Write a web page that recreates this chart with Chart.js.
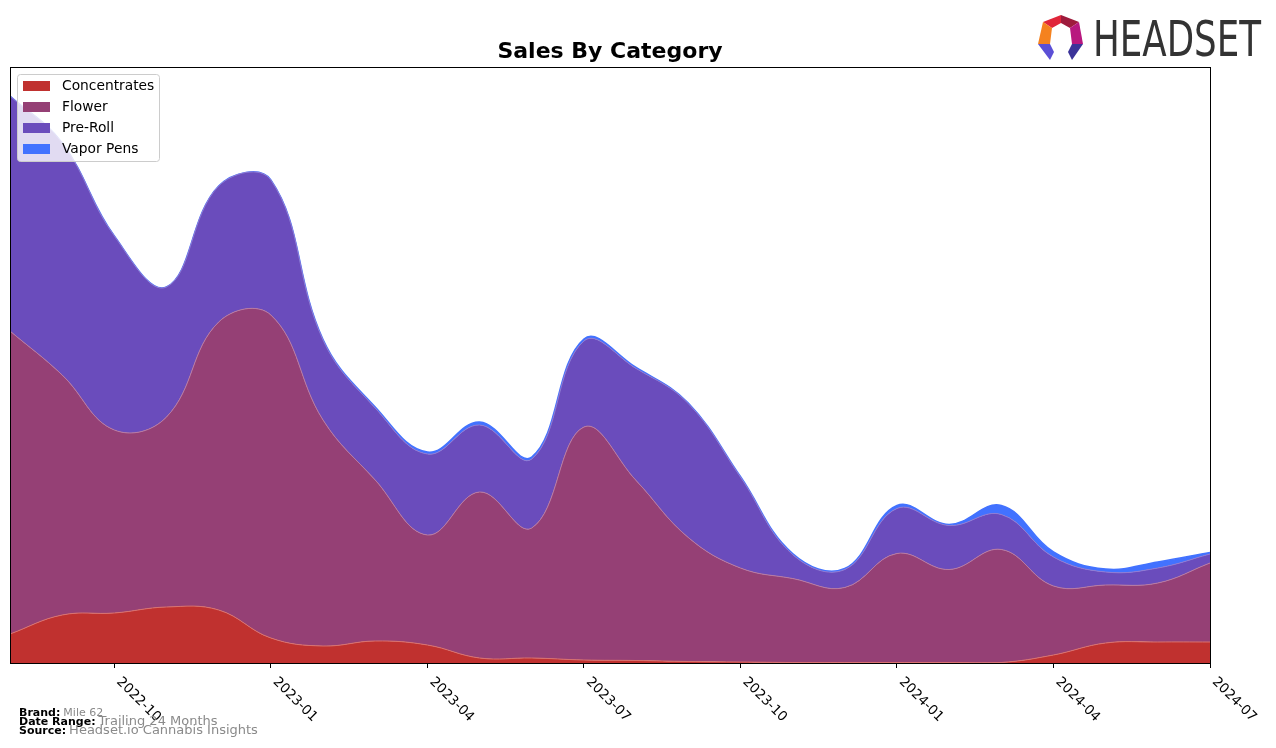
<!DOCTYPE html>
<html>
<head>
<meta charset="utf-8">
<title>Sales By Category</title>
<script src="https://cdn.jsdelivr.net/npm/chart.js@4.4.1/dist/chart.umd.min.js"></script>
<style>
    html, body { margin: 0; padding: 0; background: #fff; }
    #salesChart { display: block; }
</style>
</head>
<body>
<canvas id="salesChart" width="1276" height="748"></canvas>
<script>
// monthly points, Aug 2022 .. Jul 2024
var months = ['2022-08','2022-09','2022-10','2022-11','2022-12','2023-01','2023-02','2023-03',
              '2023-04','2023-05','2023-06','2023-07','2023-08','2023-09','2023-10','2023-11',
              '2023-12','2024-01','2024-02','2024-03','2024-04','2024-05','2024-06','2024-07'];

// values (no y axis in the original, so units are arbitrary)
var concentrates = [29,48,50,56,53,25,17,22,18,5,5,3,2.5,1.5,1,0.5,0.5,0.5,0.5,0.5,8,20,21,21];
var flower       = [303,240,183,190,288,323,226,161,110,166,130,233,180,124,94,84,75,109,93,113,69,58,59,79];
var preRoll      = [235,232,194,130,136,135,80,72,81,67,69,86,112,134,91,24,18,45,44,35,29,13,15,9];
var vaporPens    = [0,0,0,0,0,0,0.5,1,2,3,2,2,1,0.5,0.5,1,1,3,1,9,5,3,6,1.5];

var categories = ['Concentrates','Flower','Pre-Roll','Vapor Pens'];
var colors     = ['#C0312F','#954075','#6A4CBC','#4272FF'];
var edgeColors = ['#D9716F','#B87AA2','#8F7BD3','#4272FF'];

// x ticks only every quarter
var tickMonths = months.filter(function (m) {
    var mm = m.slice(5);
    return mm == '01' || mm == '04' || mm == '07' || mm == '10';
});

function toPoints(arr) {
    return arr.map(function (v, i) { return {x: i, y: v}; });
}

var series = [concentrates, flower, preRoll, vaporPens];
var datasets = [];
for (var i = 0; i < series.length; i++) {
    datasets.push({
        label: categories[i],
        data: toPoints(series[i]),
        backgroundColor: colors[i],
        borderColor: edgeColors[i],
        borderWidth: i == 3 ? 1.5 : 1,
        pointRadius: 0,
        tension: 0.4,
        fill: i == 0 ? 'origin' : '-1'
    });
}

var FONT = '"DejaVu Sans", sans-serif';

// title, legend box, rotated tick labels, frame, footer and logo
var decorations = {
    id: 'decorations',
    afterDraw: function (chart) {
        var ctx = chart.ctx;
        var area = chart.chartArea;
        var xs = chart.scales.x;

        ctx.save();

        // frame around the plot
        ctx.strokeStyle = '#000';
        ctx.lineWidth = 1;
        ctx.strokeRect(Math.round(area.left) + 0.5, Math.round(area.top) + 0.5,
                       Math.round(area.right - area.left), Math.round(area.bottom - area.top));

        // title
        ctx.fillStyle = '#000';
        ctx.font = 'bold 22px ' + FONT;
        ctx.textAlign = 'center';
        ctx.textBaseline = 'middle';
        ctx.fillText('Sales By Category', (area.left + area.right) / 2, 52);

        // x tick labels, rotated 45deg clockwise
        ctx.font = '13.5px ' + FONT;
        ctx.textAlign = 'left';
        ctx.textBaseline = 'top';
        tickMonths.forEach(function (m) {
            var px = xs.getPixelForValue(months.indexOf(m));
            ctx.save();
            ctx.translate(px + 9, area.bottom + 12);
            ctx.rotate(Math.PI / 4);
            ctx.fillText(m, 0, 0);
            ctx.restore();
        });

        // legend
        ctx.beginPath();
        ctx.roundRect(17.5, 74.5, 142, 87, 3);
        ctx.fillStyle = 'rgba(255,255,255,0.8)';
        ctx.fill();
        ctx.strokeStyle = '#CCCCCC';
        ctx.stroke();
        ctx.font = '13.8px ' + FONT;
        ctx.textBaseline = 'middle';
        for (var k = 0; k < categories.length; k++) {
            ctx.fillStyle = colors[k];
            ctx.fillRect(23, 81 + k * 21, 27, 10);
            ctx.fillStyle = '#000';
            ctx.fillText(categories[k], 62, 86.5 + k * 21);
        }

        // footer
        var footer = [['Brand:', 'Mile 62', 11, 716], ['Date Range:', 'Trailing 24 Months', 13, 725], ['Source:', 'Headset.io Cannabis Insights', 13, 734]];
        ctx.textBaseline = 'alphabetic';
        footer.forEach(function (f) {
            ctx.font = 'bold 11px ' + FONT;
            ctx.fillStyle = '#000';
            ctx.fillText(f[0], 19, f[3]);
            var w = ctx.measureText(f[0]).width;
            ctx.font = f[2] + 'px ' + FONT;
            ctx.fillStyle = '#8A8A8A';
            ctx.fillText(f[1], 19 + w + 3, f[3]);
        });

        // logo
        var pieces = [
            ['#E0263A', [[1043,22],[1061,15],[1061,23],[1052,28]]],
            ['#9E1B3C', [[1061,15],[1079,22],[1070,28],[1061,23]]],
            ['#B8187F', [[1079,22],[1083,44],[1072,44],[1070,28]]],
            ['#F5821F', [[1043,22],[1052,28],[1050,44],[1038,44]]],
            ['#5B4FD6', [[1038,44],[1050,44],[1054,52],[1050,60]]],
            ['#3B3399', [[1083,44],[1072,44],[1068,52],[1072,60]]]
        ];
        pieces.forEach(function (p) {
            ctx.beginPath();
            ctx.moveTo(p[1][0][0], p[1][0][1]);
            for (var j = 1; j < p[1].length; j++) ctx.lineTo(p[1][j][0], p[1][j][1]);
            ctx.closePath();
            ctx.fillStyle = p[0];
            ctx.fill();
        });
        ctx.font = '50px "DejaVu Sans Condensed", "DejaVu Sans", sans-serif';
        ctx.fillStyle = '#333333';
        var tw = ctx.measureText('HEADSET').width;
        ctx.save();
        ctx.translate(1093, 56);
        ctx.scale(168 / tw, 1);
        ctx.fillText('HEADSET', 0, 0);
        ctx.restore();

        ctx.restore();
    }
};

var salesChart = new Chart(document.getElementById('salesChart').getContext('2d'), {
    type: 'line',
    data: { datasets: datasets },
    options: {
        responsive: false,
        animation: false,
        layout: { padding: { left: 10, right: 66, top: 67, bottom: 0 } },
        plugins: {
            legend: { display: false },
            title: { display: false },
            tooltip: { enabled: false }
        },
        scales: {
            x: {
                type: 'linear',
                min: 0,
                max: months.length - 1,
                afterFit: function (scale) { scale.height = 85; },
                afterBuildTicks: function (scale) {
                    scale.ticks = tickMonths.map(function (m) { return {value: months.indexOf(m)}; });
                },
                ticks: { display: false },
                grid: { drawOnChartArea: false, color: '#000', tickLength: 5 },
                border: { display: true, color: '#000' }
            },
            y: {
                display: false,
                stacked: true,
                min: 0,
                max: 596
            }
        }
    },
    plugins: [decorations]
});
</script>
</body>
</html>
